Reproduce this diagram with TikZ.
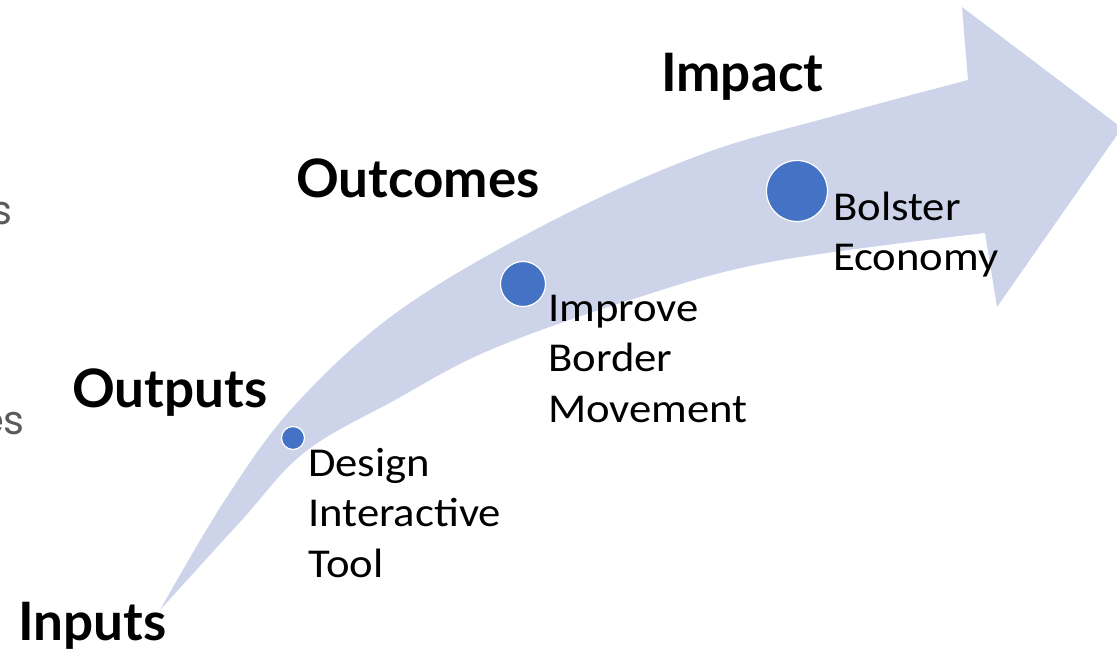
\documentclass[tikz,border=0pt]{standalone}
\usepackage{fontspec}
\setmainfont{Carlito}
\newfontfamily\itemfont[FakeStretch=1.09]{Carlito}
\newfontfamily\latofont{Lato}
\newfontfamily\popfont{Poppins}
\definecolor{band}{HTML}{CDD4EA}
\definecolor{dotblue}{HTML}{4472C4}
\definecolor{greytxt}{HTML}{5A5A5A}
\begin{document}
\begin{tikzpicture}[x=1pt,y=-1pt,
  dotnode/.style={circle,fill=dotblue,draw=white,line width=1.2pt,inner sep=0pt},
  stage/.style={font=\latofont\bfseries\fontsize{53}{60}\selectfont,anchor=base west,inner sep=0pt},
  item/.style={font=\itemfont\fontsize{41}{50.5}\selectfont,anchor=base west,inner sep=0pt,align=left},
  cut/.style={font=\popfont\fontsize{40}{48}\selectfont,text=greytxt,anchor=base east,inner sep=0pt}]
\useasboundingbox (0,0) rectangle (1117,668);
\clip (0,0) rectangle (1117,668);
% curved arrow
\fill[band] (160,610)
  -- plot[smooth,tension=0.6] coordinates {(160,610) (225,500) (295,405) (400,310) (550,222) (700,155) (830,117) (968,80)}
  -- (962,7) -- (1122,128) -- (997,307) -- (985,233)
  -- plot[smooth,tension=0.6] coordinates {(985,233) (770,262) (630,300) (490,350) (395,400) (305,452) (240,522) (160,610)}
  -- cycle;
% dots
\node[dotnode,minimum size=23pt] (d1) at (293,438) {};
\node[dotnode,minimum size=45pt] (d2) at (523,284) {};
\node[dotnode,minimum size=61pt] (d3) at (797,191) {};
% stage labels
\node[stage] (impact) at (661,92) {Impact};
\node[stage] (outcomes) at (296,198) {Outcomes};
\node[stage] (outputs) at (72,407) {Outputs};
\node[stage] (inputs) at (18,640) {Inputs};
% item labels (anchored at the baseline of the last line)
\node[item] (design) at (308,577) {Design\\Interactive\\Tool};
\node[item] (improve) at (548,422) {Improve\\Border\\Movement};
\node[item] (bolster) at (833,271) {Bolster\\Economy};
% cut-off text at left edge
\node[cut] (cut1) at (13,225) {s};
\node[cut] (cut2) at (25,435) {es};
\end{tikzpicture}
\end{document}
